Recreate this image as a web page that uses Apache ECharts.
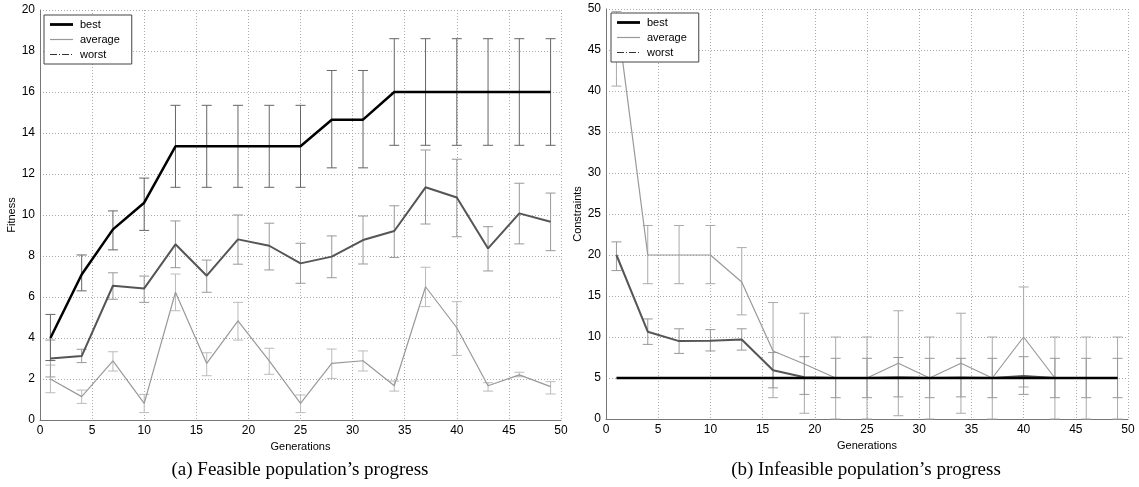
<!DOCTYPE html>
<html>
<head>
<meta charset="utf-8">
<script src="https://cdn.jsdelivr.net/npm/echarts@6/dist/echarts.min.js"></script>
<style>
  html, body { margin: 0; padding: 0; background: #fff; }
  #main { width: 1139px; height: 487px; }
</style>
</head>
<body>
<div id="main"></div>
<script>
// generations sampled
const gens = [1, 4, 7, 10, 13, 16, 19, 22, 25, 28, 31, 34, 37, 40, 43, 46, 49];

// (a) fitness of the feasible population
const fitBest   = [4.0, 7.1, 9.3, 10.6, 13.35, 13.35, 13.35, 13.35, 13.35, 14.65, 14.65, 16, 16, 16, 16, 16, 16];
const fitBestLo = [2.9, 6.3, 8.3, 9.25, 11.35, 11.35, 11.35, 11.35, 11.35, 12.3, 12.3, 13.4, 13.4, 13.4, 13.4, 13.4, 13.4];
const fitBestHi = [5.15, 8.05, 10.2, 11.8, 15.35, 15.35, 15.35, 15.35, 15.35, 17.05, 17.05, 18.6, 18.6, 18.6, 18.6, 18.6, 18.6];
const fitAvg    = [3.0, 3.12, 6.55, 6.42, 8.57, 7.04, 8.81, 8.5, 7.64, 7.97, 8.78, 9.22, 11.35, 10.85, 8.37, 10.08, 9.67];
const fitAvgLo  = [2.1, 2.8, 5.89, 5.74, 7.43, 6.23, 7.6, 7.32, 6.67, 6.94, 7.61, 7.93, 9.56, 8.94, 7.27, 8.59, 8.26];
const fitAvgHi  = [3.9, 3.45, 7.18, 7.02, 9.71, 7.8, 10.0, 9.6, 8.62, 8.98, 9.95, 10.45, 13.17, 12.72, 9.43, 11.55, 11.07];
const fitWorst   = [2.0, 1.14, 2.88, 0.81, 6.23, 2.76, 4.84, 2.88, 0.81, 2.76, 2.89, 1.67, 6.5, 4.5, 1.67, 2.2, 1.63];
const fitWorstLo = [1.33, 0.81, 2.39, 0.36, 5.33, 2.16, 3.9, 2.23, 0.36, 2.03, 2.39, 1.41, 5.53, 3.15, 1.41, 2.11, 1.27];
const fitWorstHi = [2.68, 1.46, 3.33, 1.25, 7.12, 3.28, 5.74, 3.5, 1.22, 3.46, 3.37, 1.9, 7.45, 5.77, 1.82, 2.33, 1.87];

// (b) constraints of the infeasible population
const conBest   = [5, 5, 5, 5, 5, 5, 5, 5, 5, 5, 5, 5, 5, 5, 5, 5, 5];
const conAvg    = [20, 10.65, 9.5, 9.55, 9.7, 5.95, 5.1, 5.0, 5.0, 5.1, 5.0, 5.05, 5.0, 5.25, 5.0, 5.0, 5.0];
const conAvgLo  = [18.1, 9.1, 8.0, 8.3, 8.4, 3.8, 3.0, 2.6, 2.6, 2.7, 2.6, 2.7, 2.6, 3.0, 2.6, 2.6, 2.6];
const conAvgHi  = [21.6, 12.2, 11.0, 10.9, 11.0, 8.1, 7.6, 7.4, 7.4, 7.5, 7.4, 7.4, 7.4, 7.6, 7.4, 7.4, 7.4];
const conWorst   = [49.5, 20, 20, 20, 16.7, 8.3, 6.7, 5, 5, 6.8, 5, 6.8, 5, 10, 5, 5, 5];
const conWorstLo = [40.6, 16.5, 16.5, 16.5, 12.7, 2.6, 0.7, 0, 0, 0.4, 0, 0.7, 0, 3.9, 0, 0, 0];
const conWorstHi = [49.7, 23.6, 23.6, 23.6, 20.9, 14.2, 12.9, 10, 10, 13.2, 10, 12.9, 10, 16.1, 10, 10, 10];

const xTicks = { min: 0, max: 50, interval: 5 };
const font = 'Liberation Sans';

// legend glyphs (25x10 box): thick, thin, dash-dot
const iconBest  = 'path://M0,0L0,0M25,10L25,10M0,3.6L23,3.6L23,6.4L0,6.4Z';
const iconAvg   = 'path://M0,0L0,0M25,10L25,10M0,4.4L23,4.4L23,5.6L0,5.6Z';
const iconWorst = 'path://M0,0L0,0M25,10L25,10M0,4.5L7,4.5L7,5.5L0,5.5ZM9,4.5L10,4.5L10,5.5L9,5.5ZM12,4.5L19,4.5L19,5.5L12,5.5ZM21,4.5L22,4.5L22,5.5L21,5.5Z';

function pairs(ys) { return gens.map((g, i) => [g, ys[i]]); }
function bars(lo, hi) { return gens.map((g, i) => [g, lo[i], hi[i]]); }

function errorBars(idx, lo, hi, color) {
  return {
    type: 'custom',
    name: 'err',
    xAxisIndex: idx, yAxisIndex: idx,
    z: 1,
    silent: true,
    data: bars(lo, hi),
    encode: { x: 0, y: [1, 2] },
    renderItem: function (params, api) {
      const x = api.value(0);
      const a = api.coord([x, api.value(1)]);
      const b = api.coord([x, api.value(2)]);
      const w = 5;
      const st = { stroke: color, lineWidth: 1 };
      return {
        type: 'group',
        children: [
          { type: 'line', shape: { x1: a[0], y1: a[1], x2: b[0], y2: b[1] }, style: st },
          { type: 'line', shape: { x1: a[0] - w, y1: a[1], x2: a[0] + w, y2: a[1] }, style: st },
          { type: 'line', shape: { x1: b[0] - w, y1: b[1], x2: b[0] + w, y2: b[1] }, style: st }
        ]
      };
    }
  };
}

function line(idx, name, ys, color, width) {
  return {
    type: 'line', name: name,
    xAxisIndex: idx, yAxisIndex: idx,
    data: pairs(ys),
    symbol: 'none',
    z: 3,
    lineStyle: { color: color, width: width },
    itemStyle: { color: color }
  };
}

function xAxis(idx) {
  return {
    type: 'value', gridIndex: idx, ...xTicks,
    name: 'Generations', nameLocation: 'middle', nameGap: 20,
    nameTextStyle: { fontFamily: font, fontSize: 11, color: '#000' },
    axisLine: { lineStyle: { color: '#777' } },
    axisTick: { show: false },
    axisLabel: { fontFamily: font, fontSize: 12, color: '#000', margin: 5 },
    splitLine: { lineStyle: { type: [1, 2], color: '#aaa' } }
  };
}

function yAxis(idx, name, max, interval) {
  return {
    type: 'value', gridIndex: idx, min: 0, max: max, interval: interval,
    name: name, nameLocation: 'middle', nameGap: 18,
    nameTextStyle: { fontFamily: font, fontSize: 11, color: '#000' },
    axisLine: { show: true, lineStyle: { color: '#777' } },
    axisTick: { show: false },
    axisLabel: { fontFamily: font, fontSize: 12, color: '#000', margin: 5 },
    splitLine: { lineStyle: { type: [1, 2], color: '#aaa' } }
  };
}

function legend(left, top) {
  return {
    orient: 'vertical', left: left, top: top,
    backgroundColor: '#fff', borderColor: '#444', borderWidth: 1,
    padding: [4, 12, 4, 6], itemGap: 4, itemWidth: 25, itemHeight: 10,
    textStyle: { fontFamily: font, fontSize: 11, color: '#000' },
    selectedMode: false,
    data: [
      { name: 'best', icon: iconBest, itemStyle: { color: '#000', borderWidth: 0 } },
      { name: 'average', icon: iconAvg, itemStyle: { color: '#999', borderWidth: 0 } },
      { name: 'worst', icon: iconWorst, itemStyle: { color: '#333', borderWidth: 0 } }
    ]
  };
}

const chart = echarts.init(document.getElementById('main'), null, { renderer: 'canvas' });

chart.setOption({
  animation: false,
  grid: [
    { left: 40, right: 578, top: 10, bottom: 67 },
    { left: 606, right: 11, top: 9, bottom: 68 }
  ],
  xAxis: [xAxis(0), xAxis(1)],
  yAxis: [yAxis(0, 'Fitness', 20, 2), yAxis(1, 'Constraints', 50, 5)],
  legend: [legend(44, 15), legend(611, 13)],
  series: [
    errorBars(0, fitWorstLo, fitWorstHi, '#bbb'),
    errorBars(0, fitAvgLo, fitAvgHi, '#999'),
    errorBars(0, fitBestLo, fitBestHi, '#666'),
    line(0, 'worst', fitWorst, '#999', 1.2),
    line(0, 'average', fitAvg, '#555', 2),
    line(0, 'best', fitBest, '#000', 2.5),
    errorBars(1, conWorstLo, conWorstHi, '#aaa'),
    errorBars(1, conAvgLo, conAvgHi, '#999'),
    line(1, 'worst', conWorst, '#999', 1.2),
    line(1, 'average', conAvg, '#555', 2),
    line(1, 'best', conBest, '#000', 2.5)
  ],
  graphic: [
    {
      type: 'text', x: 300, y: 470,
      style: { text: '(a) Feasible population\u2019s progress', fontFamily: 'Liberation Serif', fontSize: 19, fill: '#000', textAlign: 'center', textVerticalAlign: 'middle' }
    },
    {
      type: 'text', x: 866, y: 470,
      style: { text: '(b) Infeasible population\u2019s progress', fontFamily: 'Liberation Serif', fontSize: 19, fill: '#000', textAlign: 'center', textVerticalAlign: 'middle' }
    }
  ]
});
</script>
</body>
</html>
